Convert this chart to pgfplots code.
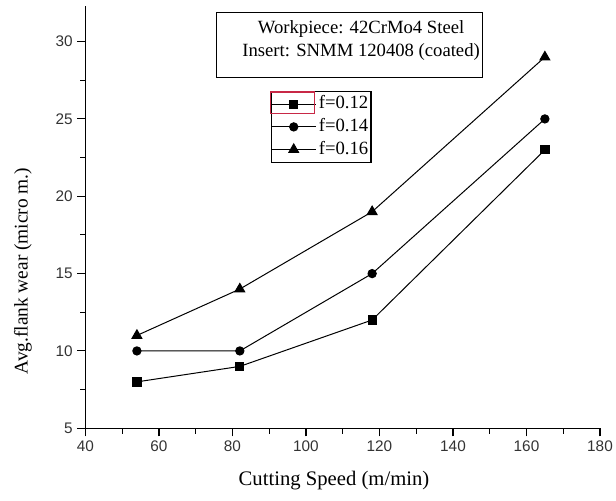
\documentclass[border=0pt]{standalone}
\usepackage{pgfplots}
\pgfplotsset{compat=1.18}
\usepackage{fontspec}
\setmainfont{Liberation Serif}
\newfontfamily\arial{Liberation Sans}
\definecolor{selred}{RGB}{200,40,70}

\begin{document}
\begin{tikzpicture}
\begin{axis}[
  name=ax,
  scale only axis,
  width=385.9pt, height=316.7pt,
  xmin=40, xmax=180, ymin=5, ymax=32.3,
  axis lines=left,
  axis line style={-, line width=0.8pt},
  xtick={40,60,...,180},
  ytick={5,10,...,30},
  minor x tick num=1,
  minor y tick num=1,
  tick align=outside,
  major tick length=6pt,
  minor tick length=4pt,
  tick style={line width=0.8pt, black},
  /pgf/number format/assume math mode=true,
  ticklabel style={font=\arial\fontsize{11.5}{13}\selectfont, text=black!80},
  xlabel={Cutting Speed (m/min)},
  ylabel={Avg.flank wear (micro m.)},
  xlabel style={font=\fontsize{15.5}{18}\selectfont, at={(axis description cs:0.483,-0.124)}, anchor=center},
  ylabel style={font=\fontsize{14.5}{16}\selectfont, at={(axis description cs:-0.1215,0.372)}, anchor=center},
  legend style={
    at={(axis cs:90.4,26.82)}, anchor=north west,
    draw=black, line width=0.8pt,
    inner xsep=0pt, inner ysep=3.2pt,
    row sep=4pt,
    font=\fontsize{14}{16}\selectfont,
    nodes={inner xsep=2pt, inner ysep=0pt, text height=10pt, text depth=3pt},
    cells={anchor=west},
  },
  legend image code/.code={
    \draw[mark repeat=2, mark phase=2, line width=0.75pt]
      plot coordinates {(0pt,0pt) (16.5pt,0pt) (33pt,0pt)};
  },
  clip=false,
]
% f = 0.12 mm/rev
\addplot[black, line width=0.75pt, mark=square*, mark size=3.1pt]
  coordinates {(54,8) (82,9) (118,12) (165,23)};
\addlegendentry{f=0.12}
% f = 0.14 mm/rev
\addplot[black, line width=0.75pt, mark=*, mark size=3.1pt]
  coordinates {(54,10) (82,10) (118,15) (165,25)};
\addlegendentry{f=0.14}
% f = 0.16 mm/rev
\addplot[black, line width=0.75pt, mark=triangle*, mark size=4.2pt]
  coordinates {(54,11) (82,14) (118,19) (165,29)};
\addlegendentry{f=0.16}

% cutting conditions box
\draw[line width=0.8pt] (axis cs:75.7,27.66) rectangle (axis cs:148.1,31.9);
\node[align=center, font=\fontsize{14}{17.25}\selectfont]
  at (axis cs:115.0,30.1) {Workpiece: 42CrMo4 Steel\\Insert: SNMM 120408 (coated)};
\end{axis}
% selection frame around the first legend sample
\draw[selred, line width=0.8pt]
  ([shift={(138.9pt,236.3pt)}]ax.south west) rectangle ([shift={(172.1pt,252.2pt)}]ax.south west);
\pgfresetboundingbox
\path[use as bounding box]
  ([shift={(-64.1pt,-54.5pt)}]ax.south west) rectangle ([shift={(12pt,4.5pt)}]ax.north east);
\end{tikzpicture}
\end{document}
